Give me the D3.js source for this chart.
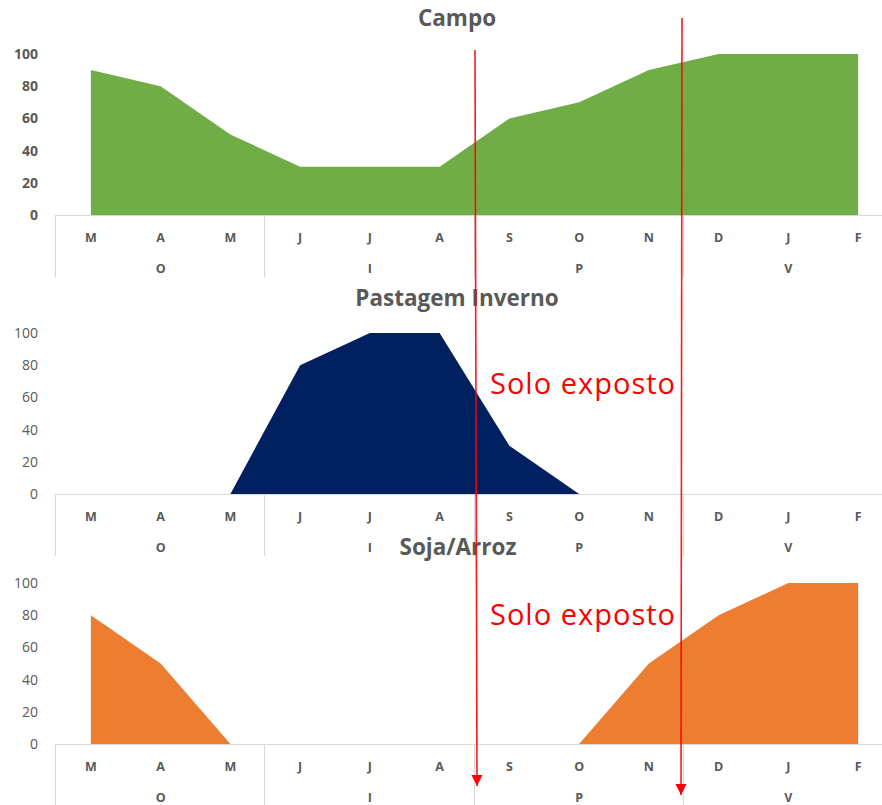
<!DOCTYPE html>
<html>
<head>
<meta charset="utf-8">
<script src="https://cdn.jsdelivr.net/npm/d3@7"></script>
<style>
  html, body { margin: 0; padding: 0; background: #fff; }
  svg { display: block; }
</style>
</head>
<body>
<svg id="chart" width="882" height="805"></svg>
<script>
// Months of the year (March to February) and the season each belongs to
const months = ["M", "A", "M", "J", "J", "A", "S", "O", "N", "D", "J", "F"];
const seasons = [
  { label: "O", from: 0, to: 2 },
  { label: "I", from: 3, to: 5 },
  { label: "P", from: 6, to: 8 },
  { label: "V", from: 9, to: 11 }
];
const yTicks = [0, 20, 40, 60, 80, 100];

// Ground cover (%) per month for each land use
const campo    = [90, 80, 50, 30, 30, 30, 60, 70, 90, 100, 100, 100];
const pastagem = [null, null, 0, 80, 100, 100, 30, 0, null, null, null, null];
const soja     = [80, 50, 0, null, null, null, null, 0, 50, 80, 100, 100];

// Exposed-soil window label
const markerLabel = "Solo exposto";

const svg = d3.select("#chart");
const W = 882;
const textGray = "#595959";
const gridGray = "#d9d9d9";

const x = d3.scaleBand().domain(d3.range(months.length)).range([56, 893]).paddingInner(0).paddingOuter(0);
const cx = i => x(i) + x.bandwidth() / 2;

const panels = [
  { title: "Campo",            data: campo,    color: "#70ad47", base: 215, titleY: 26,  titleX: 457, boldTicks: true,  sepTo: 277 },
  { title: "Pastagem Inverno", data: pastagem, color: "#002060", base: 494, titleY: 306, titleX: 457, boldTicks: false, sepTo: 556 },
  { title: "Soja/Arroz",       data: soja,     color: "#ed7d31", base: 744, titleY: 555, titleX: 458, boldTicks: false, sepTo: 805 }
];

panels.forEach(p => {
  const y = d3.scaleLinear().domain([0, 100]).range([p.base, p.base - 161]);
  const g = svg.append("g");

  // area
  const area = d3.area()
    .defined(d => d != null)
    .x((d, i) => cx(i))
    .y0(y(0))
    .y1(d => y(d));
  g.append("path")
    .datum(p.data)
    .attr("d", area)
    .attr("fill", p.color);

  // y axis labels
  const yAxis = d3.axisLeft(y).tickValues(yTicks).tickSize(0).tickPadding(0);
  const ya = g.append("g").attr("transform", "translate(38,0)").call(yAxis);
  ya.select(".domain").remove();
  ya.selectAll("text")
    .attr("fill", textGray)
    .attr("font-family", "'Open Sans', sans-serif")
    .attr("font-size", 14)
    .attr("font-weight", p.boldTicks ? 700 : 400);

  // x axis baseline
  g.append("line")
    .attr("x1", 55).attr("x2", W)
    .attr("y1", p.base + 0.5).attr("y2", p.base + 0.5)
    .attr("stroke", gridGray).attr("stroke-width", 1.2);

  // month labels
  const xAxis = d3.axisBottom(x).tickFormat(i => months[i]).tickSize(0).tickPadding(0);
  const xa = g.append("g").attr("transform", `translate(0,${p.base + 27})`).call(xAxis);
  xa.select(".domain").remove();
  xa.selectAll("text")
    .attr("dy", 0)
    .attr("fill", textGray)
    .attr("font-family", "'Open Sans', sans-serif")
    .attr("font-size", 12.5)
    .attr("font-weight", 700);

  // season separators
  const seps = [0].concat(seasons.map(s => s.to + 1)).filter(i => i < months.length);
  g.selectAll(".sep").data(seps).enter().append("line")
    .attr("x1", i => Math.round(x(i)) - 0.5).attr("x2", i => Math.round(x(i)) - 0.5)
    .attr("y1", p.base).attr("y2", p.sepTo)
    .attr("stroke", gridGray).attr("stroke-width", 1.2);

  // season labels
  g.selectAll(".season").data(seasons).enter().append("text")
    .attr("x", s => cx(Math.round((s.from + s.to) / 2)))
    .attr("y", p.base + 58)
    .attr("text-anchor", "middle")
    .attr("fill", textGray)
    .attr("font-family", "'Open Sans', sans-serif")
    .attr("font-size", 12.5)
    .attr("font-weight", 700)
    .text(s => s.label);

  // title
  g.append("text")
    .attr("x", p.titleX).attr("y", p.titleY)
    .attr("text-anchor", "middle")
    .attr("fill", textGray)
    .attr("font-family", "'Open Sans', sans-serif")
    .attr("font-size", 22.5)
    .attr("font-weight", 700)
    .text(p.title);
});

// "Solo exposto" annotations
[394, 625].forEach(yy => {
  svg.append("text")
    .attr("x", 490).attr("y", yy)
    .attr("fill", "#ff0000")
    .attr("font-family", "'Open Sans', sans-serif")
    .attr("font-size", 29)
    .attr("textLength", 185)
    .attr("lengthAdjust", "spacing")
    .text(markerLabel);
});

// red marker arrows bounding the exposed-soil window
const defs = svg.append("defs");
defs.append("marker")
  .attr("id", "arrow")
  .attr("viewBox", "0 0 10 10")
  .attr("refX", 10).attr("refY", 5)
  .attr("markerWidth", 7).attr("markerHeight", 7)
  .attr("orient", "auto")
  .append("path")
  .attr("d", "M0,0 L10,5 L0,10 Z")
  .attr("fill", "#ff0000");

const arrows = [
  { x1: 475, y1: 50, x2: 477, y2: 786 },
  { x1: 682, y1: 18, x2: 681, y2: 795 }
];
svg.selectAll(".marker-line").data(arrows).enter().append("line")
  .attr("x1", d => d.x1).attr("y1", d => d.y1)
  .attr("x2", d => d.x2).attr("y2", d => d.y2)
  .attr("stroke", "#ff0000")
  .attr("stroke-opacity", 0.9)
  .attr("stroke-width", 1.6)
  .attr("marker-end", "url(#arrow)");
</script>
</body>
</html>
